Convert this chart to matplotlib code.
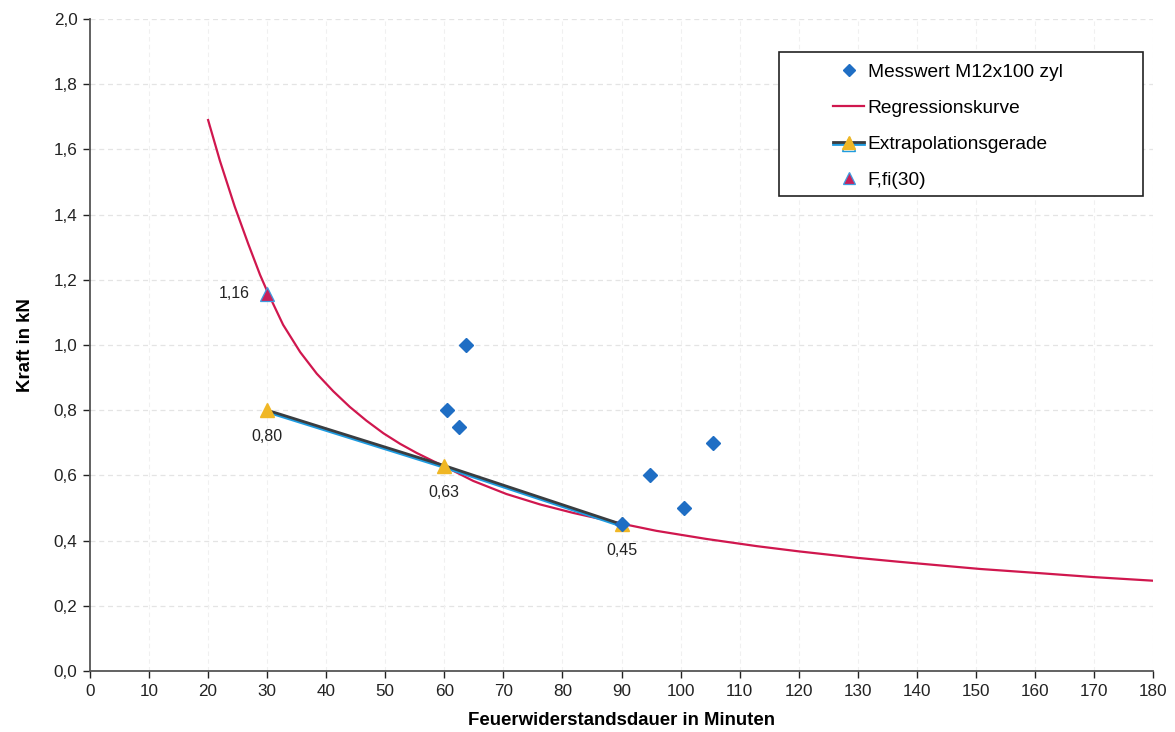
import matplotlib
matplotlib.use("Agg")
import matplotlib.pyplot as plt
import matplotlib.patheffects as pe
from matplotlib.lines import Line2D
from matplotlib.patches import Rectangle

plt.rcParams['font.family'] = ['Liberation Sans', 'DejaVu Sans']

# Data
mess_x = [60.4, 62.4, 63.7, 90.0, 94.8, 100.5, 105.5]
mess_y = [0.80, 0.75, 1.00, 0.45, 0.60, 0.50, 0.70]

reg_x = [20, 22, 24.5, 26.8, 28.8, 30, 32.7, 35.6, 38.4, 41.2, 44, 46.8, 49.7, 52.5,
         55.3, 58.1, 60, 64.9, 70.5, 76.2, 81.8, 90, 95.9, 104.4, 112.9, 120, 130,
         137, 150.7, 160.9, 170, 180]
reg_y = [1.69, 1.565, 1.425, 1.31, 1.215, 1.165, 1.062, 0.978, 0.912, 0.858, 0.81,
         0.768, 0.729, 0.697, 0.669, 0.644, 0.628, 0.583, 0.543, 0.511, 0.485, 0.452,
         0.430, 0.405, 0.383, 0.367, 0.347, 0.335, 0.313, 0.300, 0.288, 0.277]

extra_x = [30, 60, 90]
extra_y = [0.80, 0.63, 0.45]
extra_labels = ["0,80", "0,63", "0,45"]

ffi_x = [30]
ffi_y = [1.155]
ffi_label = "1,16"

xticks = list(range(0, 181, 10))
yticks = [0.0, 0.2, 0.4, 0.6, 0.8, 1.0, 1.2, 1.4, 1.6, 1.8, 2.0]
ytick_labels = ["0,0", "0,2", "0,4", "0,6", "0,8", "1,0", "1,2", "1,4", "1,6", "1,8", "2,0"]

c_blue = '#1f6ec4'
c_red = '#d0174e'
c_yellow = '#f0b725'
c_dark = '#3a3d40'
c_shadow = '#1e9be0'

fig = plt.figure(figsize=(11.75, 7.32), dpi=100)
ax = fig.add_axes([90/1175, 61/732, 1063/1175, 652/732])

ax.set_xlim(0, 180)
ax.set_ylim(0, 2.0)

for y in yticks[1:]:
    ax.axhline(y, color='#e4e4e4', lw=0.9, ls=(0, (4, 3)), zorder=0)
for x in xticks[1:]:
    ax.axvline(x, color='#f0f0f0', lw=0.8, ls=(0, (4, 3)), zorder=0)

# Regression curve
ax.plot(reg_x, reg_y, color=c_red, lw=1.6, zorder=3, solid_joinstyle='round')

# Extrapolation line
ax.plot(extra_x, extra_y, color=c_dark, lw=2.0, zorder=4,
        path_effects=[pe.SimpleLineShadow(offset=(0, -1.3), shadow_color=c_shadow, alpha=1.0),
                      pe.Normal()])
ax.plot(extra_x, extra_y, ls='none', marker='^', ms=9.5, color=c_yellow,
        markeredgecolor=c_yellow, zorder=5)

# Measured values
ax.plot(mess_x, mess_y, ls='none', marker='D', ms=6.8, color=c_blue,
        markeredgecolor=c_blue, zorder=6)

# F,fi(30)
ax.plot(ffi_x, ffi_y, ls='none', marker='^', ms=10.5, color='#c8205a',
        markeredgecolor='#3f9be0', markeredgewidth=0.9, zorder=7)

for x, y, t in zip(extra_x, extra_y, extra_labels):
    ax.annotate(t, (x, y), xytext=(0, -19), textcoords='offset points',
                ha='center', va='center', fontsize=11.5, color='#222222')
ax.annotate(ffi_label, (ffi_x[0], ffi_y[0]), xytext=(-24, 1), textcoords='offset points',
            ha='center', va='center', fontsize=11.5, color='#222222')

ax.set_xticks(xticks)
ax.set_xticklabels([str(v) for v in xticks])
ax.set_yticks(yticks)
ax.set_yticklabels(ytick_labels)
ax.tick_params(axis='both', labelsize=12.3, colors='#222222', direction='out', length=5, width=1)
ax.tick_params(axis='x', pad=4)
ax.tick_params(axis='y', pad=4)
for s in ['top', 'right']:
    ax.spines[s].set_visible(False)
for s in ['left', 'bottom']:
    ax.spines[s].set_color('#555555')
    ax.spines[s].set_linewidth(1.3)

ax.set_xlabel('Feuerwiderstandsdauer in Minuten', fontsize=13.4, fontweight='bold', labelpad=10)
ax.set_ylabel('Kraft in kN', fontsize=13.4, fontweight='bold', labelpad=14)

# Legend
handles = [
    Line2D([], [], ls='none', marker='D', ms=6.5, color=c_blue),
    Line2D([], [], color=c_red, lw=1.6),
    Line2D([], [], color=c_dark, lw=2.0, marker='^', ms=9.5, markerfacecolor=c_yellow,
           markeredgecolor=c_yellow,
           path_effects=[pe.SimpleLineShadow(offset=(0, -1.3), shadow_color=c_shadow, alpha=1.0),
                         pe.Normal()]),
    Line2D([], [], ls='none', marker='^', ms=8, color='#c8205a', markeredgecolor='#3f9be0',
           markeredgewidth=0.9),
]
labels = ['Messwert M12x100 zyl', 'Regressionskurve', 'Extrapolationsgerade', 'F,fi(30)']
leg = fig.legend(handles, labels, loc='upper left', bbox_to_anchor=(814/1175, 1 - 44/732),
                 frameon=False, fontsize=13.8, handlelength=1.6, handletextpad=0.2,
                 labelspacing=0.98, borderpad=0.5)
fig.add_artist(Rectangle((779/1175, 1 - 196/732), (1143 - 779)/1175, (196 - 52)/732,
                         transform=fig.transFigure, fill=True, facecolor='white',
                         edgecolor='#222222', lw=1.2, zorder=1))
leg.set_zorder(5)

fig.savefig('out.png', dpi=100, facecolor='white')
